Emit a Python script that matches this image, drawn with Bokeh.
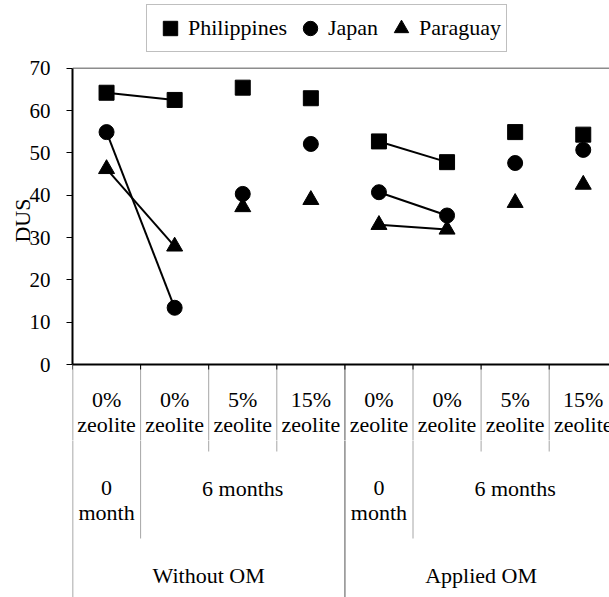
from bokeh.plotting import figure
from bokeh.layouts import column
from bokeh.models import Range1d, FixedTicker, Legend, LegendItem
from bokeh.core.properties import value
from bokeh.embed import file_html
from bokeh.resources import INLINE

# ---------------- data ----------------
level1_labels = ["0%\nzeolite", "0%\nzeolite", "5%\nzeolite", "15%\nzeolite",
                 "0%\nzeolite", "0%\nzeolite", "5%\nzeolite", "15%\nzeolite"]
level2_labels = ["0\nmonth", "6 months", "0\nmonth", "6 months"]
level2_spans = [1, 3, 1, 3]
level3_labels = ["Without OM", "Applied OM"]
level3_spans = [4, 4]

philippines = [64.2, 62.5, 65.4, 62.9, 52.7, 47.8, 54.9, 54.3]
japan = [54.9, 13.4, 40.3, 52.1, 40.7, 35.2, 47.6, 50.7]
paraguay = [46.2, 27.9, 37.2, 38.9, 33.0, 31.9, 38.2, 42.5]
connected_pairs = [(0, 1), (4, 5)]

y_ticks = [0, 10, 20, 30, 40, 50, 60, 70]
y_label = "DUS"

# ---------------- geometry (page pixels) ----------------
W, H = 609, 597
LEFT = 72
CAT_PX = 68.1
PX_PER_UNIT = 4.233
ZERO_PX = 364
H_TOP = 440                 # top figure height (axis label centred on plot area)
X_END = (W - LEFT) / CAT_PX


def py(row):
    """page pixel row -> data y"""
    return (ZERO_PX - row) / PX_PER_UNIT


FONT_NAME = "Liberation Serif"
FONT = value(FONT_NAME)
FS = "22px"
LINE_STEP = 24.5 / PX_PER_UNIT

n = len(level1_labels)
centers = [i + 0.5 for i in range(n)]
x_range = Range1d(0, X_END)

bounds2 = [0]
for s in level2_spans:
    bounds2.append(bounds2[-1] + s)
bounds3 = [0]
for s in level3_spans:
    bounds3.append(bounds3[-1] + s)


def base_fig(height, y0, y1, **kw):
    f = figure(width=W, height=height, output_backend="svg", toolbar_location=None,
               x_range=x_range, y_range=Range1d(y0, y1),
               x_axis_location=None, min_border_left=LEFT, min_border_right=0,
               min_border_top=0, min_border_bottom=0, **kw)
    f.outline_line_color = None
    f.grid.visible = False
    f.background_fill_color = "white"
    return f


def draw_separators(f):
    lvl1_end = py(451)
    lvl2_end = py(538)
    bottom = py(H + 5)
    xs0, ys0, xs1, ys1, cols, wids = [], [], [], [], [], []
    for b in range(n):
        if b in bounds3:
            end, col, w = bottom, "#8c8c8c", 1.5
        elif b in bounds2:
            end, col, w = lvl2_end, "#a6a6a6", 1
        else:
            end, col, w = lvl1_end, "#a6a6a6", 1
        xs0.append(b); ys0.append(0); xs1.append(b); ys1.append(end)
        cols.append(col); wids.append(w)
    f.segment(x0=xs0, y0=ys0, x1=xs1, y1=ys1, line_color=cols, line_width=wids)


def put_labels(f, xc, labels, first_center_row, font=FONT):
    tx, ty, tt = [], [], []
    base = py(first_center_row)
    for x, lab in zip(xc, labels):
        for i, line in enumerate(lab.split("\n")):
            tx.append(x); ty.append(base - i * LINE_STEP); tt.append(line)
    f.text(x=tx, y=ty, text=tt, text_align="center", text_baseline="middle",
           text_font=font, text_font_size=FS, text_color="black")


# ---------------- top figure: plot area + first label row ----------------
p = base_fig(H_TOP, py(H_TOP), py(0))

ya = p.yaxis[0]
ya.ticker = FixedTicker(ticks=y_ticks)
ya.bounds = (min(y_ticks), max(y_ticks))
ya.axis_line_color = "black"
ya.axis_line_width = 2
ya.major_tick_out = 6
ya.major_tick_in = 0
ya.minor_tick_out = 0
ya.minor_tick_in = 0
ya.major_tick_line_color = "black"
ya.major_label_standoff = 16
ya.major_label_text_font = FONT_NAME
ya.major_label_text_font_size = "21px"
ya.major_label_text_color = "black"
ya.axis_label = y_label
ya.axis_label_standoff = -8
ya.axis_label_text_font = FONT_NAME
ya.axis_label_text_font_size = FS
ya.axis_label_text_font_style = "normal"
ya.axis_label_text_color = "black"

top_v = max(y_ticks)
p.segment(x0=[0], y0=[top_v], x1=[X_END], y1=[top_v], line_color="#8c8c8c", line_width=1.5)
draw_separators(p)
p.segment(x0=[0], y0=[0], x1=[X_END], y1=[0], line_color="black", line_width=2)
p.segment(x0=list(range(n)), y0=[0] * n, x1=list(range(n)), y1=[py(369)] * n,
          line_color="black", line_width=1)
put_labels(p, centers, level1_labels, 399)

for series in (philippines, japan, paraguay):
    for a, b in connected_pairs:
        p.line(x=[centers[a], centers[b]], y=[series[a], series[b]],
               line_color="black", line_width=2)

r_ph = p.scatter(x=centers, y=philippines, marker="square", size=15,
                 fill_color="black", line_color="black")
r_jp = p.scatter(x=centers, y=japan, marker="circle", size=15,
                 fill_color="black", line_color="black")
r_pa = p.scatter(x=centers, y=paraguay, marker="triangle", size=16,
                 fill_color="black", line_color="black")

legend = Legend(items=[LegendItem(label="Philippines", renderers=[r_ph]),
                       LegendItem(label="Japan", renderers=[r_jp]),
                       LegendItem(label="Paraguay", renderers=[r_pa])],
                orientation="horizontal", location=(146 - LEFT, H_TOP - 52),
                glyph_width=36, glyph_height=36, label_standoff=0,
                spacing=5, padding=5, margin=0,
                border_line_color="#808080", border_line_width=1,
                label_text_font=FONT_NAME, label_text_font_size=FS,
                label_text_color="black", background_fill_color="white",
                background_fill_alpha=1)
p.add_layout(legend)

# ---------------- bottom figure: remaining label rows ----------------
q = base_fig(H - H_TOP, py(H), py(H_TOP), y_axis_location=None)
draw_separators(q)
c2 = [(bounds2[i] + bounds2[i + 1]) / 2 for i in range(len(level2_spans))]
put_labels(q, c2, level2_labels, 487.5)
c3 = [(bounds3[i] + bounds3[i + 1]) / 2 for i in range(len(level3_spans))]
put_labels(q, c3, level3_labels, 574.5)

layout = column(p, q, spacing=0)
open("out.html", "w").write(file_html(layout, INLINE))
